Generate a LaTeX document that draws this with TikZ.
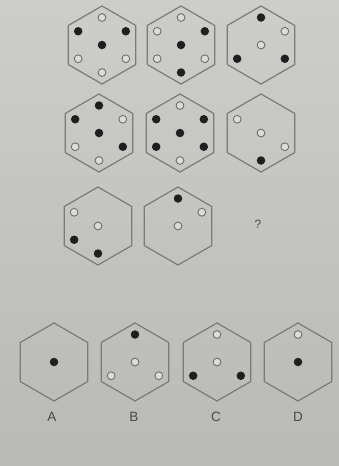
\documentclass[tikz,border=0pt]{standalone}
\usepackage{fontspec}
\setsansfont{Liberation Sans}
\definecolor{bgtop}{HTML}{CDCDC9}
\definecolor{bgbot}{HTML}{B9B9B5}
\definecolor{hexgray}{HTML}{7A7A78}
\definecolor{dotgray}{HTML}{6E6E6C}
\definecolor{dotfill}{HTML}{DCDCD8}
\definecolor{txtgray}{HTML}{4A4A4A}
\tikzset{
  hexline/.style={draw=hexgray, line width=1.2pt, line join=round},
  fdot/.style={circle, fill=black!88, minimum size=8.5pt, inner sep=0pt},
  odot/.style={circle, draw=dotgray, fill=dotfill, line width=0.9pt, minimum size=7.8pt, inner sep=0pt},
  lbl/.style={font=\sffamily\fontsize{13.5}{13.5}\selectfont, text=txtgray, inner sep=0pt},
  qmark/.style={font=\sffamily\fontsize{12}{12}\selectfont, text=txtgray, inner sep=0pt},
}
% #1 name, #2 x, #3 y, #4 list angle/type (type f or o); angle 999 = centre
\newcommand\hexfig[4]{%
  \coordinate (#1) at (#2,#3);
  \draw[hexline] ([shift={(90:39pt)}]#1) -- ([shift={(150:39pt)}]#1) -- ([shift={(210:39pt)}]#1)
     -- ([shift={(270:39pt)}]#1) -- ([shift={(330:39pt)}]#1) -- ([shift={(30:39pt)}]#1) -- cycle;
  \foreach \a/\s in {#4} {%
    \ifnum\a=999
      \node[\s dot] (#1-c) at (#1) {};
    \else
      \node[\s dot] (#1-\a) at ([shift={(\a:27.5pt)}]#1) {};
    \fi
  }%
}
\begin{document}
\begin{tikzpicture}[x=1pt,y=-1pt]
  \shade[top color=bgtop, bottom color=bgbot] (0,0) rectangle (339,466);
  \useasboundingbox (0,0) rectangle (339,466);
  % row 1
  \hexfig{h11}{102}{45}{90/o,150/f,30/f,999/f,210/o,330/o,270/o}
  \hexfig{h12}{181}{45}{90/o,150/o,30/f,999/f,210/o,330/o,270/f}
  \hexfig{h13}{261}{45}{90/f,30/o,999/o,210/f,330/f}
  % row 2
  \hexfig{h21}{99}{133}{90/f,150/f,30/o,999/f,210/o,330/f,270/o}
  \hexfig{h22}{180}{133}{90/o,150/f,30/f,999/f,210/f,330/f,270/o}
  \hexfig{h23}{261}{133}{150/o,999/o,330/o,270/f}
  % row 3
  \hexfig{h31}{98}{226}{150/o,999/o,210/f,270/f}
  \hexfig{h32}{178}{226}{90/f,30/o,999/o}
  \node[qmark] (q) at (258,224) {?};
  % options
  \hexfig{oa}{54}{362}{999/f}
  \hexfig{ob}{135}{362}{90/f,999/o,210/o,330/o}
  \hexfig{oc}{217}{362}{90/o,999/o,210/f,330/f}
  \hexfig{od}{298}{362}{90/o,999/f}
  \node[lbl] (la) at (52,417) {A};
  \node[lbl] (lb) at (134,417) {B};
  \node[lbl] (lc) at (216,417) {C};
  \node[lbl] (ld) at (298,417) {D};
\end{tikzpicture}
\end{document}
